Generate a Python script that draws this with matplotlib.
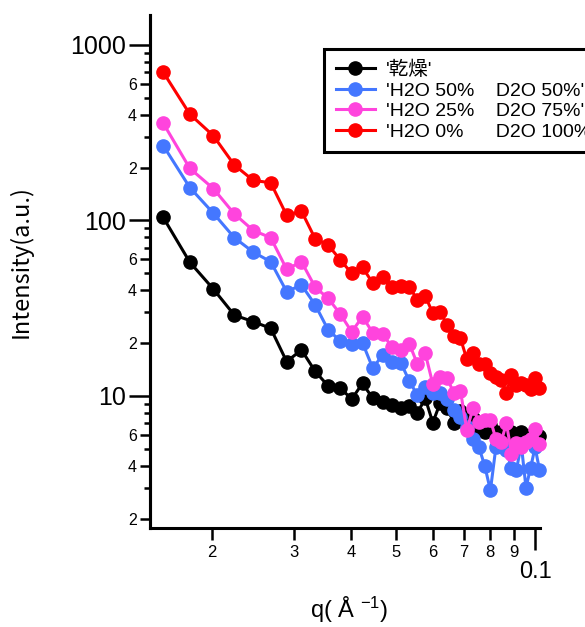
import math
import matplotlib
matplotlib.use("Agg")
import matplotlib.pyplot as plt
from matplotlib.ticker import FixedLocator, FuncFormatter, NullLocator, NullFormatter

plt.rcParams['font.family'] = ['Liberation Sans', 'Noto Sans CJK JP', 'DejaVu Sans']
plt.rcParams['mathtext.default'] = 'regular'

# ---- data ----
q = [0.01566, 0.01788, 0.02010, 0.02232, 0.02454, 0.02676, 0.02898, 0.03120,
     0.03342, 0.03564, 0.03786, 0.04008, 0.04230, 0.04452, 0.04674, 0.04896,
     0.05118, 0.05340, 0.05562, 0.05784, 0.06006, 0.06228, 0.06450, 0.06672,
     0.06894, 0.07116, 0.07338, 0.07560, 0.07782, 0.08004, 0.08226, 0.08448,
     0.08670, 0.08892, 0.09114, 0.09336, 0.09558, 0.09780, 0.10002, 0.10224]

dry = [104, 57.8, 40.7, 28.9, 26.5, 24.3, 15.7, 18.3, 13.8, 11.4, 11.1, 9.6,
       11.8, 9.7, 9.3, 8.9, 8.5, 8.8, 8.0, 9.7, 7.05, 9.1, 8.5, 7.05, 8.2, 7.3,
       7.5, 6.6, 6.2, 6.8, 6.2, 6.2, 5.4, 6.2, 5.9, 6.2, 5.8, 6.0, 5.9, 5.9]

h50 = [267, 154, 110, 79.8, 66, 58.2, 39.3, 42.9, 33.0, 23.8, 20.6, 19.9, 20.1,
       14.4, 17.1, 15.7, 15.5, 12.2, 10.1, 11.3, 10.4, 10.4, 9.6, 8.3, 7.6, 6.7,
       5.7, 5.1, 4.0, 2.9, 5.1, 5.3, 4.9, 3.9, 3.8, 5.3, 3.0, 3.9, 5.1, 3.8]

h25 = [358, 198, 152, 109, 87.6, 79.8, 52.7, 58.2, 41.6, 36.0, 29.3, 23.2, 28.3,
       22.9, 22.5, 19.1, 18.2, 19.9, 15.2, 17.5, 11.7, 12.9, 12.6, 10.4, 10.7,
       6.4, 8.5, 7.1, 7.3, 7.3, 5.7, 5.5, 7.0, 4.7, 5.4, 5.1, 5.5, 5.7, 6.5, 5.3]

h0 = [699, 403, 304, 207, 169, 164, 107, 113, 78.5, 72.5, 59.6, 50, 54.1, 43.9,
      47.4, 41.6, 42.5, 42.0, 35.2, 37.1, 29.6, 30.2, 25.4, 22.0, 21.3, 16.2,
      17.5, 15.2, 15.3, 13.6, 12.9, 12.3, 10.4, 13.2, 11.5, 11.8, 11.5, 10.9,
      12.6, 11.1]

labels = ["'乾燥'", "'H2O 50%    D2O 50%'", "'H2O 25%    D2O 75%'",
          "'H2O 0%      D2O 100%'"]
colors = ['#000000', '#4477ff', '#ff44dd', '#ff0000']
series = [dry, h50, h25, h0]

# ---- figure ----
fig = plt.figure(figsize=(5.85, 6.27), dpi=100)
ax = fig.add_axes([150/585, 1-528/627, 390/585, 513/627])

for ys, c, lab in zip(series, colors, labels):
    ax.plot(q, ys, '-o', color=c, lw=2.2, ms=9.5, label=lab, clip_on=False)

ax.set_xscale('log')
ax.set_yscale('log')
ax.set_xlim(0.01466, 0.1025)
ax.set_ylim(1.77, 1480)

for s in ['top', 'right']:
    ax.spines[s].set_visible(False)
for s in ['left', 'bottom']:
    ax.spines[s].set_linewidth(2.2)

# x ticks
ax.xaxis.set_major_locator(FixedLocator([0.1]))
ax.xaxis.set_major_formatter(FuncFormatter(lambda v, p: '0.1'))
ax.xaxis.set_minor_locator(FixedLocator([0.02, 0.03, 0.04, 0.05, 0.06, 0.07, 0.08, 0.09]))
ax.xaxis.set_minor_formatter(FuncFormatter(lambda v, p: str(int(round(v*100)))))
ax.tick_params(axis='x', which='major', length=16, width=1.8, labelsize=17, pad=8)
ax.tick_params(axis='x', which='minor', length=8.5, width=1.8, labelsize=12, pad=4)

# y ticks
ax.yaxis.set_major_locator(FixedLocator([10, 100, 1000]))
ax.yaxis.set_major_formatter(FuncFormatter(lambda v, p: str(int(round(v)))))
ymin = []
for d in [1, 10, 100, 1000]:
    for m in [3, 5, 7, 8, 9]:
        ymin.append(m*d)
ax.yaxis.set_minor_locator(FixedLocator(ymin))
ax.yaxis.set_minor_formatter(NullFormatter())
ax.tick_params(axis='y', which='major', length=15, width=1.8, labelsize=18, pad=2)
ax.tick_params(axis='y', which='minor', length=4, width=1.8)

sec = ax.secondary_yaxis('left')
sec.yaxis.set_major_locator(FixedLocator([2, 4, 6, 20, 40, 60, 200, 400, 600]))
sec.yaxis.set_minor_locator(NullLocator())
sec.yaxis.set_major_formatter(FuncFormatter(
    lambda v, p: str(int(round(v / 10**math.floor(math.log10(v) + 1e-9))))))
sec.tick_params(axis='y', which='major', length=7.5, width=1.8, labelsize=11.5, pad=2)
sec.spines['left'].set_linewidth(2.2)

ax.set_ylabel('Intensity(a.u.)', fontsize=17, family=['Noto Sans CJK JP', 'DejaVu Sans'])
ax.yaxis.set_label_coords(-0.30, 0.52)
ax.set_xlabel('q( Å $^{-1}$)', fontsize=17)
ax.xaxis.set_label_coords(0.51, -0.13)

leg = ax.legend(loc='upper left', bbox_to_anchor=(324/585, 1-49/627),
                bbox_transform=fig.transFigure, borderaxespad=0,
                fontsize=14, labelspacing=0.15, handlelength=2.0,
                handletextpad=0.6, borderpad=0.6, fancybox=False,
                framealpha=1, edgecolor='black')
leg.get_frame().set_linewidth(2.2)

fig.savefig('out.png', dpi=100)
